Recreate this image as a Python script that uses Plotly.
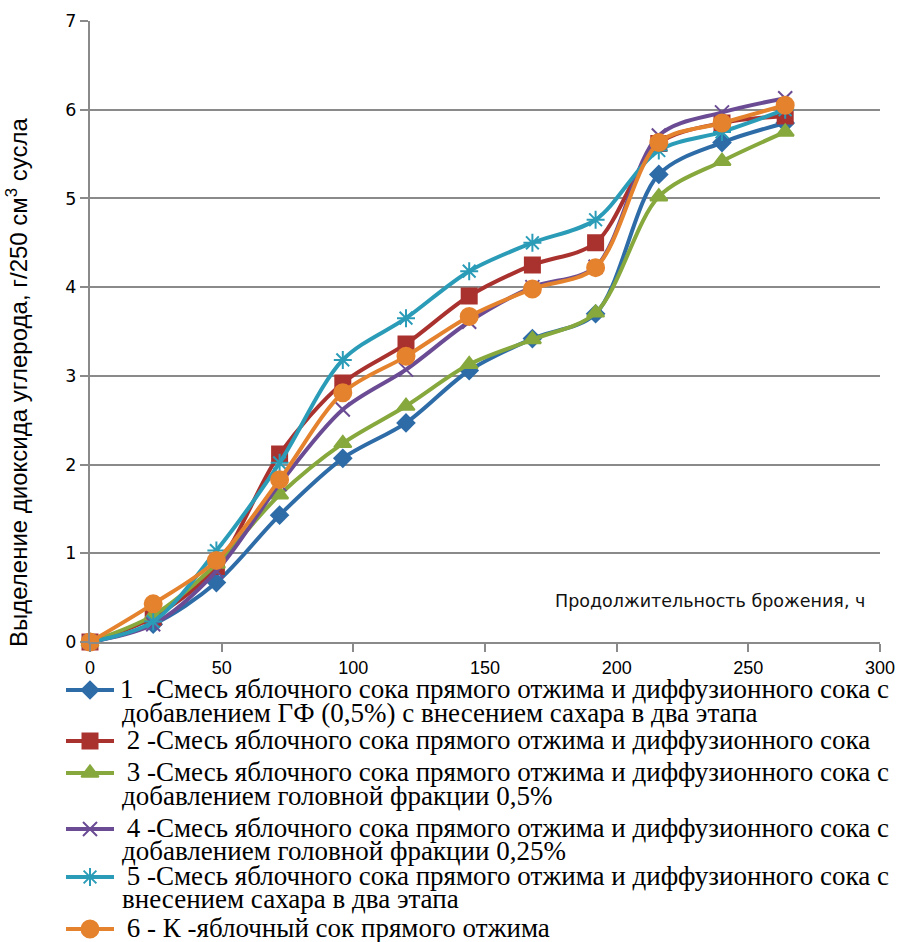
import plotly.graph_objects as go

W, H = 898, 942

# Fermentation time, h
hours = [0, 24, 48, 72, 96, 120, 144, 168, 192, 216, 240, 264]

# CO2 released, g per 250 cm3 of must
s1 = [0, 0.20, 0.67, 1.43, 2.07, 2.47, 3.06, 3.42, 3.70, 5.27, 5.63, 5.85]
s2 = [0, 0.28, 0.85, 2.12, 2.92, 3.36, 3.90, 4.25, 4.50, 5.62, 5.85, 5.93]
s3 = [0, 0.30, 0.88, 1.66, 2.24, 2.66, 3.13, 3.41, 3.71, 5.02, 5.42, 5.75]
s4 = [0, 0.20, 0.80, 1.78, 2.62, 3.07, 3.61, 4.00, 4.23, 5.71, 5.97, 6.13]
s5 = [0, 0.23, 1.03, 2.02, 3.18, 3.65, 4.18, 4.50, 4.76, 5.54, 5.75, 6.00]
s6 = [0, 0.43, 0.92, 1.83, 2.81, 3.22, 3.67, 3.98, 4.22, 5.63, 5.85, 6.05]

legend_lines = [
    ["1  -Смесь яблочного сока прямого отжима и диффузионного сока с",
     "добавлением ГФ (0,5%) с внесением сахара в два этапа"],
    [" 2 -Смесь яблочного сока прямого отжима и диффузионного сока"],
    [" 3 -Смесь яблочного сока прямого отжима и диффузионного сока с",
     "добавлением головной фракции 0,5%"],
    [" 4 -Смесь яблочного сока прямого отжима и диффузионного сока с",
     "добавлением головной фракции 0,25%"],
    [" 5 -Смесь яблочного сока прямого отжима и диффузионного сока с",
     "внесением сахара в два этапа"],
    [" 6 - К -яблочный сок прямого отжима"],
]

x_ticks = [0, 50, 100, 150, 200, 250, 300]
y_ticks = [0, 1, 2, 3, 4, 5, 6, 7]

series = [s1, s2, s3, s4, s5, s6]
colors = ["#2e6ca8", "#a9322f", "#86a83d", "#6b4c94", "#2b9cb8", "#e4822e"]
symbols = ["diamond", "square", "triangle-up", "x-thin-open", "asterisk-open", "circle"]
msizes = [13, 15, 15, 14, 15, 17]

# pixel layout helpers
px_left, px_right = 90, 880
px_top, px_bottom = 21, 642

fig = go.Figure()

for ys, c, sym, ms, lines in zip(series, colors, symbols, msizes, legend_lines):
    fig.add_trace(go.Scatter(
        x=hours, y=ys, mode="lines+markers",
        line=dict(color=c, width=4, shape="spline", smoothing=0.9),
        marker=dict(symbol=sym, size=ms, color=c, opacity=1,
                    line=dict(color=c, width=2)),
        cliponaxis=False, showlegend=False, name=lines[0].strip(),
    ))

# legend keys drawn on a pixel-space overlay axis
key_y = [690, 741, 773, 829, 877, 929]
line2_y = [714, None, 797, 852, 900, None]
for ys, c, sym, ms, ky in zip(series, colors, symbols, msizes, key_y):
    fig.add_trace(go.Scatter(
        x=[66, 114], y=[ky, ky], xaxis="x2", yaxis="y2",
        mode="lines", line=dict(color=c, width=4),
        showlegend=False, hoverinfo="skip", cliponaxis=False,
    ))
    fig.add_trace(go.Scatter(
        x=[90], y=[ky], xaxis="x2", yaxis="y2",
        mode="markers",
        marker=dict(symbol=sym, size=ms, color=c, opacity=1,
                    line=dict(color=c, width=2)),
        showlegend=False, hoverinfo="skip", cliponaxis=False,
    ))

legend_font = dict(family="Liberation Serif", size=27, color="#000")
annotations = []
for lines, ky, l2 in zip(legend_lines, key_y, line2_y):
    annotations.append(dict(
        x=118, y=ky - 1, xref="x2", yref="y2", text=lines[0], showarrow=False,
        xanchor="left", yanchor="middle", font=legend_font))
    if len(lines) > 1:
        annotations.append(dict(
            x=120, y=l2 - 1, xref="x2", yref="y2", text=lines[1], showarrow=False,
            xanchor="left", yanchor="middle", font=legend_font))

annotations.append(dict(
    x=17, y=382, xref="x2", yref="y2", textangle=-90, showarrow=False,
    text="Выделение диоксида углерода, г/250 см<sup>3</sup> сусла",
    xanchor="center", yanchor="middle",
    font=dict(family="Liberation Sans", size=24, color="#000")))
annotations.append(dict(
    x=553, y=601, xref="x2", yref="y2", showarrow=False,
    text="Продолжительность брожения, ч",
    xanchor="left", yanchor="middle",
    font=dict(family="DejaVu Sans", size=17.5, color="#111")))

grid = "#8a8a8a"
fig.update_layout(
    width=W, height=H,
    margin=dict(l=0, r=0, t=0, b=0, pad=0, autoexpand=False),
    paper_bgcolor="white", plot_bgcolor="rgba(0,0,0,0)",
    xaxis=dict(
        domain=[px_left / W, px_right / W], range=[0, 300],
        tickvals=x_ticks, ticktext=[str(v) for v in x_ticks],
        showgrid=False, zeroline=False, automargin=False,
        showline=True, linecolor=grid, linewidth=2,
        ticks="outside", ticklen=8, tickwidth=2, tickcolor=grid,
        tickfont=dict(family="Liberation Sans", size=18, color="#000"),
    ),
    yaxis=dict(
        domain=[1 - px_bottom / H, 1 - px_top / H], range=[0, 7],
        tickvals=y_ticks, automargin=False,
        showgrid=True, gridcolor=grid, gridwidth=2, zeroline=False,
        showline=True, linecolor=grid, linewidth=2,
        ticks="outside", ticklen=8, tickwidth=2, tickcolor=grid,
        tickfont=dict(family="DejaVu Sans", size=17.5, color="#000"),
    ),
    xaxis2=dict(domain=[0, 1], range=[0, W], visible=False, fixedrange=True,
                automargin=False),
    yaxis2=dict(domain=[0, 1], range=[H, 0], visible=False, fixedrange=True,
                automargin=False),
    annotations=annotations,
    showlegend=False,
)

fig.write_html("out.html")
